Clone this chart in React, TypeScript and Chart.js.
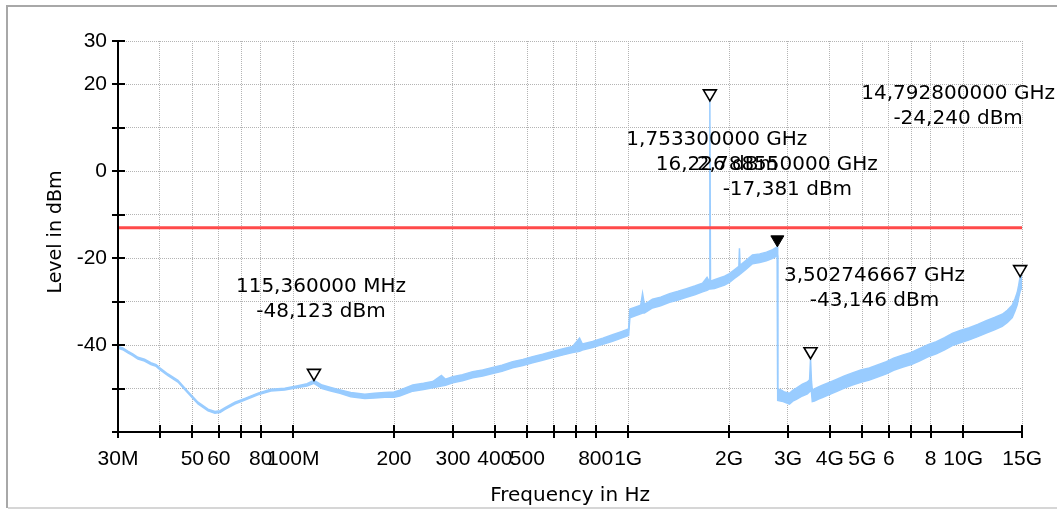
import React, { useEffect, useRef } from "react";
import { Chart, registerables } from "chart.js";

Chart.register(...registerables);

// ---- Trace (frequency in MHz, upper / lower envelope of the noisy trace in dBm)
const freqMHz = [
  30.0, 31.0, 32.1, 33.2, 34.4, 36.0, 37.6, 39.0, 40.0, 42.3, 45.3, 48.5, 52.0, 55.7, 58.4, 60.5, 62.6, 67.0,
  71.8, 78.5, 85.8, 94.4, 103.3, 110.0, 115.36, 122.0, 129.5, 138.0, 148.6, 163.6, 175.0, 187.7, 200.0, 208.0,
  227.5, 245.0, 261.0, 277.0, 285.0, 299.4, 320.0, 343.5, 368.0, 394.0, 420.0, 452.0, 485.0, 518.6, 555.0,
  595.0, 640.0, 682.5, 716.0, 730.0, 783.0, 840.0, 898.0, 950.0, 1003.0,
  1012, 1050, 1090, 1104, 1118, 1182, 1250, 1329, 1410, 1493, 1580, 1667, 1720, 1745, 1753.3, 1761, 1810,
  1873, 1940, 2006, 2080, 2140, 2149, 2158, 2250, 2350, 2470, 2586, 2700, 2788.55,
  2795, 2870, 2927, 3029, 3100, 3178, 3312, 3428, 3480, 3502.746667, 3525, 3545, 3596, 3700, 3800, 4000,
  4184, 4420, 4670, 4950, 5248, 5550, 5898, 6200, 6582, 7000, 7398, 7850, 8313, 8800, 9279, 9800, 10426,
  11050, 11717, 12400, 13077, 13550, 14009, 14300, 14499, 14650, 14792.8, 15000,
];
const levelHigh = [
  -40.3, -40.65, -41.4, -42.0, -42.8, -43.25, -44.05, -44.5, -45.25, -46.65, -48.1, -50.65, -53.15, -54.75, -55.3, -55.1, -54.4, -53.15,
  -52.25, -51.05, -50.15, -49.95, -49.35, -48.9, -48.123, -49.2, -49.75, -50.3, -50.9, -51.3, -51.1, -50.9, -50.8, -50.4,
  -49.2, -48.8, -48.4, -47.0, -47.85, -47.25, -46.8, -46.1, -45.7, -45.15, -44.65, -43.8, -43.3, -42.65, -42.1,
  -41.45, -40.85, -40.3, -38.4, -39.75, -39.15, -38.4, -37.6, -36.95, -36.3,
  -31.7, -31.25, -30.8, -28.1, -30.6, -29.45, -28.95, -28.15, -27.6, -27.0, -26.4, -25.75, -24.4, -25.3, 16.226, -25.3, -24.95,
  -24.55, -24.15, -23.55, -22.6, -21.9, -17.7, -21.65, -20.5, -19.25, -19.0, -18.6, -18.05, -17.381,
  -50.1, -50.4, -50.8, -51.1, -50.4, -49.9, -49.0, -48.5, -48.0, -43.146, -48.3, -50.3, -50.1, -49.6, -49.25, -48.55,
  -47.9, -47.1, -46.4, -45.75, -45.25, -44.55, -43.8, -43.0, -42.3, -41.7, -40.85, -39.9, -39.2, -38.3, -37.3, -36.65, -36.0,
  -35.25, -34.4, -33.65, -32.9, -32.0, -30.85, -29.2, -27.9, -26.2, -24.24, -23.9,
];
const levelLow = [
  -40.7, -41.05, -41.8, -42.4, -43.2, -43.65, -44.45, -44.9, -45.65, -47.05, -48.5, -51.05, -53.55, -55.15, -55.7, -55.5, -54.8, -53.55,
  -52.65, -51.45, -50.55, -50.35, -49.75, -49.4, -48.8, -50.0, -50.55, -51.1, -51.9, -52.3, -52.2, -52.0, -52.0, -51.7,
  -50.6, -50.2, -49.8, -49.4, -49.25, -48.65, -48.2, -47.5, -47.1, -46.55, -46.05, -45.2, -44.7, -44.05, -43.5,
  -42.85, -42.25, -41.7, -41.4, -41.15, -40.55, -39.8, -39.1, -38.45, -37.8,
  -33.7, -33.25, -32.8, -32.6, -32.6, -31.45, -30.95, -30.15, -29.6, -29.0, -28.4, -27.75, -27.4, -27.1, -27.0, -27.1, -26.95,
  -26.55, -26.15, -25.55, -24.6, -23.9, -23.8, -23.65, -22.5, -21.25, -21.0, -20.6, -20.05, -19.4,
  -52.7, -52.9, -53.1, -53.6, -52.9, -52.5, -51.7, -51.2, -50.7, -50.5, -50.8, -53.0, -52.9, -52.4, -52.05, -51.35,
  -50.7, -49.9, -49.2, -48.55, -48.05, -47.35, -46.6, -45.8, -45.1, -44.5, -43.65, -42.7, -42.0, -41.1, -40.1, -39.45, -38.8,
  -38.05, -37.2, -36.45, -35.7, -34.8, -33.65, -32.0, -30.7, -29.0, -27.6, -26.6,
];

// ---- Axes
const xMinMHz = 30;
const xMaxMHz = 15000;
const xTickMHz = [30, 40, 50, 60, 70, 80, 100, 200, 300, 400, 500, 600, 700, 800, 1000, 2000, 3000, 4000, 5000, 6000, 7000, 8000, 10000, 15000];
const xTickLabels = ["30M", "", "50", "60", "", "80", "100M", "200", "300", "400", "500", "", "", "800", "1G", "2G", "3G", "4G", "5G", "6", "", "8", "10G", "15G"];
const yMin = -60;
const yMax = 30;
const yStep = 10;
const yLabelled = [30, 20, 0, -20, -40];

// ---- Limit line
const limitLevel = -13;

// ---- Markers
const markerFreqMHz = [115.36, 1753.3, 2788.55, 3502.746667, 14792.8];
const markerLevel = [-48.123, 16.226, -17.381, -43.146, -24.24];
const markerFreqText = ["115,360000 MHz", "1,753300000 GHz", "2,788550000 GHz", "3,502746667 GHz", "14,792800000 GHz"];
const markerLevelText = ["-48,123 dBm", "16,226 dBm", "-17,381 dBm", "-43,146 dBm", "-24,240 dBm"];
const markerActive = [false, false, true, false, false];
// label placement relative to marker (pixels) – layout only
const markerLabelOffset = [[7, -94], [7, 39], [10, -82], [64, -83], [-62, -183]];

const TRACE_COLOR = "#99ccff";
const GRID_COLOR = "#b4b4b4";

const customPlugin = {
  id: "customDraw",
  beforeDraw(chart: any) {
    const ctx = chart.ctx;
    ctx.save();
    ctx.fillStyle = "#ffffff";
    ctx.fillRect(0, 0, chart.width, chart.height);
    ctx.fillStyle = "#a8a8a8";
    ctx.fillRect(6, 5, chart.width - 6, 2);
    ctx.fillRect(6, 5, 2, 503);
    ctx.fillStyle = "#d6d6d6";
    ctx.fillRect(8, 507, chart.width - 8, 2);
    ctx.restore();
  },
  afterDraw(chart: any) {
    const ctx = chart.ctx;
    const xs = chart.scales.x;
    const ys = chart.scales.y;
    const { left, right, top, bottom } = chart.chartArea;
    ctx.save();
    // axes
    ctx.strokeStyle = "#000";
    ctx.lineWidth = 2;
    ctx.beginPath();
    ctx.moveTo(left, top);
    ctx.lineTo(left, bottom + 1);
    ctx.moveTo(left - 1, bottom);
    ctx.lineTo(right, bottom);
    ctx.stroke();
    // y ticks crossing the axis
    ctx.beginPath();
    for (let v = yMin; v <= yMax; v += yStep) {
      const py = Math.round(ys.getPixelForValue(v));
      ctx.moveTo(left - 6, py);
      ctx.lineTo(left + 7, py);
    }
    // x ticks crossing the axis
    for (const f of xTickMHz) {
      const px = Math.round(xs.getPixelForValue(f * 1e6));
      ctx.moveTo(px, bottom - 7);
      ctx.lineTo(px, bottom + 6);
    }
    ctx.stroke();

    // markers
    for (let i = 0; i < markerFreqMHz.length; i++) {
      const px = xs.getPixelForValue(markerFreqMHz[i] * 1e6);
      const py = ys.getPixelForValue(markerLevel[i]);
      ctx.beginPath();
      ctx.moveTo(px, py);
      ctx.lineTo(px - 6.5, py - 11);
      ctx.lineTo(px + 6.5, py - 11);
      ctx.closePath();
      if (markerActive[i]) {
        ctx.fillStyle = "#000";
        ctx.fill();
        ctx.lineWidth = 1;
        ctx.strokeStyle = "#000";
        ctx.stroke();
      } else {
        ctx.fillStyle = "#fff";
        ctx.fill();
        ctx.lineWidth = 1.6;
        ctx.strokeStyle = "#000";
        ctx.stroke();
      }
    }
    // marker labels
    ctx.fillStyle = "#000";
    ctx.font = '20px "DejaVu Sans"';
    ctx.textAlign = "center";
    ctx.textBaseline = "middle";
    for (let i = 0; i < markerFreqMHz.length; i++) {
      const px = xs.getPixelForValue(markerFreqMHz[i] * 1e6);
      const py = ys.getPixelForValue(markerLevel[i]);
      const [dx, dy] = markerLabelOffset[i];
      ctx.fillText(markerFreqText[i], px + dx, py + dy);
      ctx.fillText(markerLevelText[i], px + dx, py + dy + 25);
    }
    // y axis title (drawn here to match the reference position)
    ctx.font = '19px "DejaVu Sans"';
    ctx.translate(56, 232);
    ctx.rotate(-Math.PI / 2);
    ctx.fillText("Level in dBm", 0, 0);
    ctx.restore();
  },
};

export default function App() {
  const canvasRef = useRef<HTMLCanvasElement | null>(null);

  useEffect(() => {
    const canvas = canvasRef.current;
    if (!canvas) return;
    const highData = freqMHz.map((f, i) => ({ x: f * 1e6, y: levelHigh[i] }));
    const lowData = freqMHz.map((f, i) => ({ x: f * 1e6, y: levelLow[i] }));
    const limitData = [
      { x: xMinMHz * 1e6, y: limitLevel },
      { x: xMaxMHz * 1e6, y: limitLevel },
    ];

    const chart = new Chart(canvas, {
      type: "line",
      data: {
        datasets: [
          {
            label: "Limit",
            data: limitData,
            borderColor: "#ff4a4a",
            borderWidth: 3,
            pointRadius: 0,
            fill: false,
          },
          {
            label: "Trace max",
            data: highData,
            borderColor: TRACE_COLOR,
            backgroundColor: TRACE_COLOR,
            borderWidth: 1.5,
            pointRadius: 0,
            tension: 0,
            fill: "+1",
          },
          {
            label: "Trace min",
            data: lowData,
            borderColor: TRACE_COLOR,
            backgroundColor: TRACE_COLOR,
            borderWidth: 1.5,
            pointRadius: 0,
            tension: 0,
            fill: false,
          },
        ],
      },
      options: {
        animation: false,
        responsive: false,
        devicePixelRatio: 1,
        events: [],
        layout: { padding: { left: 0, right: 34, top: 41, bottom: 0 } },
        plugins: {
          legend: { display: false },
          tooltip: { enabled: false },
          title: { display: false },
        },
        scales: {
          x: {
            type: "logarithmic",
            min: xMinMHz * 1e6,
            max: xMaxMHz * 1e6,
            afterBuildTicks: (scale: any) => {
              scale.ticks = xTickMHz.map((f) => ({ value: f * 1e6 }));
            },
            afterFit: (scale: any) => {
              scale.height = 77;
            },
            ticks: {
              autoSkip: false,
              maxRotation: 0,
              minRotation: 0,
              padding: 15,
              color: "#000",
              font: { family: '"Liberation Sans"', size: 21 },
              callback: (_v: any, index: number) => xTickLabels[index] ?? "",
            },
            grid: {
              display: true,
              drawTicks: false,
              color: GRID_COLOR,
              lineWidth: 1,
            },
            border: { display: false, dash: [1, 1] },
            title: {
              display: true,
              text: "Frequency in Hz",
              color: "#000",
              font: { family: '"DejaVu Sans"', size: 20 },
              padding: { top: 0, bottom: 1 },
            },
          },
          y: {
            type: "linear",
            min: yMin,
            max: yMax,
            afterFit: (scale: any) => {
              scale.width = 118;
            },
            ticks: {
              stepSize: yStep,
              autoSkip: false,
              padding: 11,
              color: "#000",
              font: { family: '"Liberation Sans"', size: 21 },
              callback: (v: any) => (yLabelled.includes(Number(v)) ? String(v) : ""),
            },
            grid: {
              display: true,
              drawTicks: false,
              color: GRID_COLOR,
              lineWidth: 1,
            },
            border: { display: false, dash: [1, 1] },
            title: { display: false },
          },
        },
      },
      plugins: [customPlugin],
    } as any);

    return () => {
      chart.destroy();
    };
  }, []);

  return (
    <div style={{ position: "fixed", left: 0, top: 0, width: 1057, height: 509, background: "#fff" }}>
      <canvas ref={canvasRef} width={1057} height={509} style={{ display: "block", width: 1057, height: 509 }} />
    </div>
  );
}
